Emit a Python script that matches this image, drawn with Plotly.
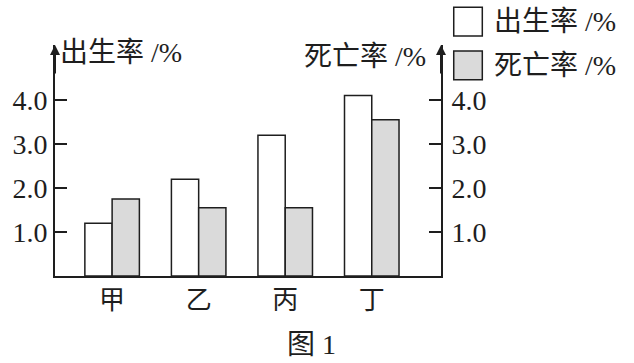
import plotly.graph_objects as go

categories = ["甲", "乙", "丙", "丁"]
birth_rate = [1.2, 2.2, 3.2, 4.1]
death_rate = [1.75, 1.55, 1.55, 3.55]
tick_vals = [1, 2, 3, 4]
tick_text = ["1.0", "2.0", "3.0", "4.0"]

SERIF = "Liberation Serif, Noto Sans CJK SC, serif"
CJK = "Noto Sans CJK SC, sans-serif"
INK = "#1e1e1e"
GRAY = "#dadada"

xs = list(range(len(categories)))
bw = 0.315

fig = go.Figure()
fig.add_trace(go.Bar(
    x=xs, y=birth_rate, width=bw, offset=-bw, name="出生率 /%",
    marker=dict(color="white", line=dict(color=INK, width=1.5)),
    yaxis="y", showlegend=False,
))
fig.add_trace(go.Bar(
    x=xs, y=death_rate, width=bw, offset=0, name="死亡率 /%",
    marker=dict(color=GRAY, line=dict(color=INK, width=1.5)),
    yaxis="y2", showlegend=False,
))

axis_common = dict(
    range=[0, 5.25], tickvals=tick_vals, ticktext=tick_text,
    showgrid=False, zeroline=False, showline=True, linecolor=INK, linewidth=2,
    ticks="inside", ticklen=12, tickwidth=2, tickcolor=INK,
    tickfont=dict(family=SERIF, size=28, color=INK),
)

fig.update_layout(
    width=634, height=363,
    margin=dict(l=50, r=193, t=45, b=87),
    paper_bgcolor="white", plot_bgcolor="white",
    barmode="overlay",
    xaxis=dict(
        range=[-0.66, 3.8], tickvals=xs, ticktext=categories,
        showgrid=False, zeroline=False, showline=True, linecolor=INK, linewidth=2,
        ticks="", tickfont=dict(family=CJK, size=26, color=INK),
    ),
    yaxis=dict(side="left", **axis_common),
    yaxis2=dict(side="right", overlaying="y", ticklabelstandoff=3, **axis_common),
)

# axis arrows
for xp in (0, 1):
    fig.add_annotation(x=xp, y=1.0, xref="paper", yref="paper", text="",
                       showarrow=True, ax=0, ay=30, arrowhead=2, arrowsize=1,
                       arrowwidth=2, arrowcolor=INK, standoff=0)

# axis titles
fig.add_annotation(x=0, y=1, xref="paper", yref="paper", xanchor="left", yanchor="middle",
                   xshift=3, yshift=-7, showarrow=False, text="出生率 /%",
                   font=dict(family=SERIF, size=28, color=INK))
fig.add_annotation(x=1, y=1, xref="paper", yref="paper", xanchor="right", yanchor="middle",
                   xshift=-13, yshift=-11, showarrow=False, text="死亡率 /%",
                   font=dict(family=SERIF, size=28, color=INK))

# legend (drawn manually to match large swatches)
legend_items = [("出生率 /%", "white", 1.163), ("死亡率 /%", GRAY, 0.974)]
for label, color, ytop in legend_items:
    fig.add_shape(type="rect", xref="paper", yref="paper",
                  x0=1.033, x1=1.107, y0=ytop - 0.124, y1=ytop,
                  fillcolor=color, line=dict(color=INK, width=1.5))
    fig.add_annotation(x=1.133, y=ytop - 0.062, xref="paper", yref="paper",
                       xanchor="left", yanchor="middle", showarrow=False, text=label,
                       font=dict(family=SERIF, size=28, color=INK))

# figure caption
fig.add_annotation(x=0.665, y=-0.296, xref="paper", yref="paper", xanchor="center",
                   yanchor="middle", showarrow=False, text="图 1",
                   font=dict(family=SERIF, size=28, color=INK))

fig.write_html("out.html")
